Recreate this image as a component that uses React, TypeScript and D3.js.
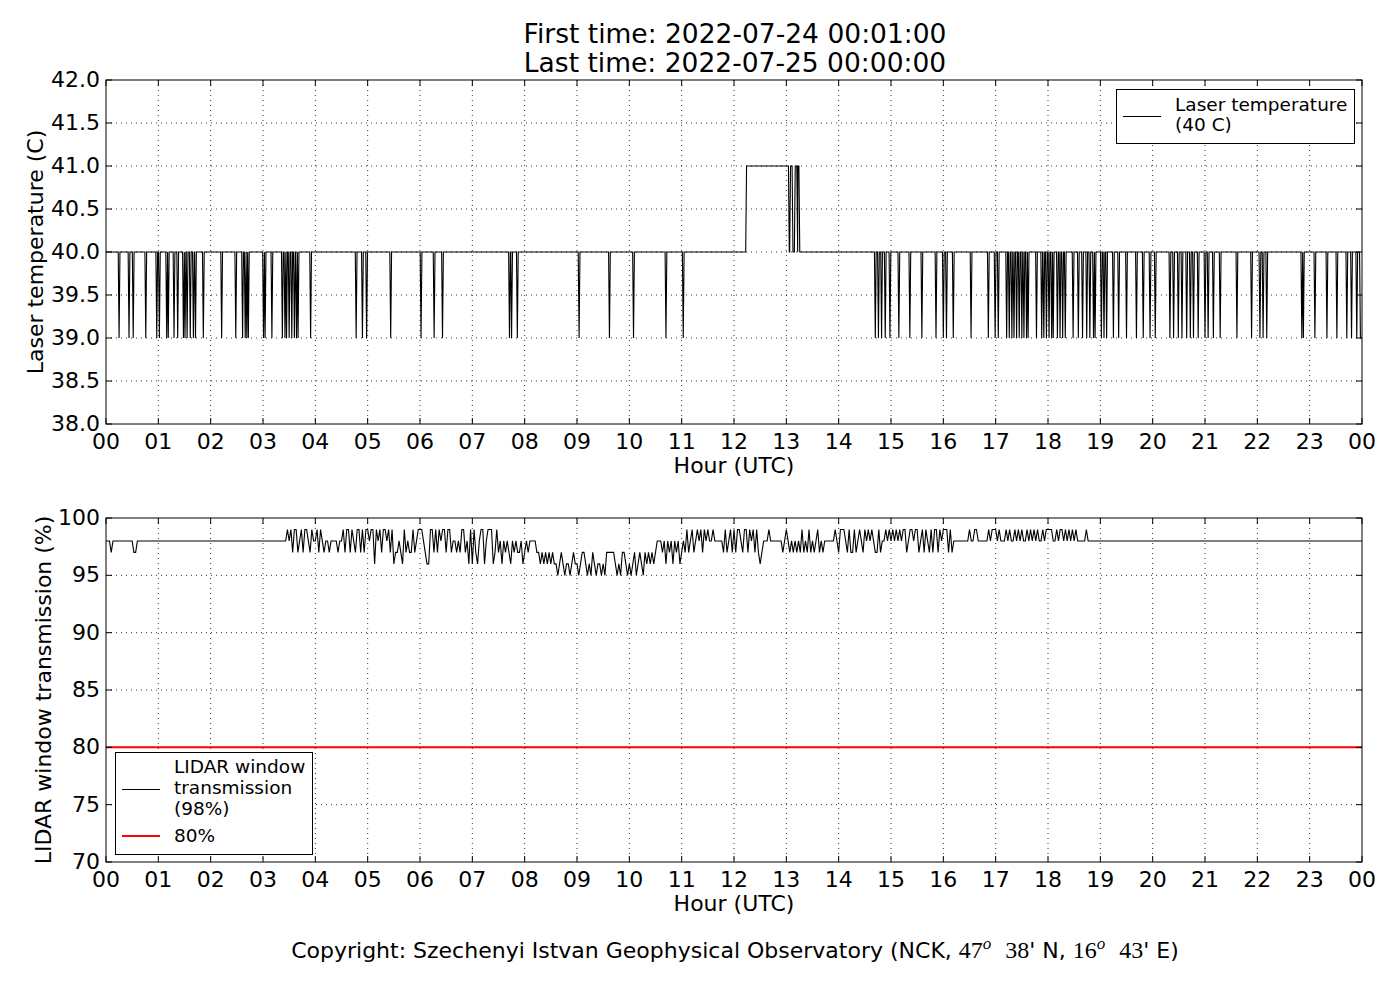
import * as d3 from "d3";

const SANS = "'DejaVu Sans', sans-serif";
const SERIF = "'Liberation Serif', 'DejaVu Serif', serif";

const hourLabels = [
  "00", "01", "02", "03", "04", "05", "06", "07", "08", "09", "10", "11",
  "12", "13", "14", "15", "16", "17", "18", "19", "20", "21", "22", "23", "00",
];
const tempTicks = [38.0, 38.5, 39.0, 39.5, 40.0, 40.5, 41.0, 41.5, 42.0];
const transTicks = [70, 75, 80, 85, 90, 95, 100];

// laser temperature: sits at 40 C, one-minute drops to 39 C (hour of day)
const tempBase = 40;
const tempLow = 39;
const tempDips = [
  0.25, 0.44, 0.52, 0.76, 0.97, 1.02, 1.16, 1.19, 1.3, 1.37, 1.48, 1.51, 1.55,
  1.61, 1.67, 1.71, 1.86, 2.21, 2.48, 2.61, 2.66, 2.69, 2.72, 3.01, 3.04, 3.17,
  3.37, 3.42, 3.45, 3.5, 3.55, 3.6, 3.64, 3.67, 3.91, 4.78, 4.9, 4.98, 5.44,
  6.02, 6.27, 6.43, 7.71, 7.75, 7.86, 9.04, 9.62, 10.08, 10.7, 11.03, 14.7,
  14.76, 14.82, 14.89, 14.98, 15.15, 15.36, 15.59, 15.86, 16.0, 16.06, 16.19,
  16.53, 16.86, 16.99, 17.05, 17.21, 17.26, 17.31, 17.35, 17.4, 17.45, 17.5,
  17.54, 17.59, 17.62, 17.78, 17.88, 17.92, 17.97, 18.02, 18.07, 18.1, 18.18,
  18.23, 18.28, 18.33, 18.48, 18.58, 18.66, 18.74, 18.8, 18.87, 18.9, 19.02,
  19.07, 19.12, 19.25, 19.35, 19.5, 19.69, 19.82, 19.95, 20.05, 20.33, 20.4,
  20.49, 20.56, 20.65, 20.72, 20.78, 20.87, 21.0, 21.06, 21.16, 21.29, 21.61,
  21.89, 22.05, 22.11, 22.18, 22.85, 22.88, 23.1, 23.33, 23.52, 23.71, 23.8,
  23.9,
];
// spans spent at 41 C, and the last span at 39 C running to the end
const tempHighSpans: [number, number][] = [
  [12.24, 13.04], [13.08, 13.11], [13.17, 13.2], [13.22, 13.24],
];
const tempLastLow: [number, number] = [23.97, 24];

// window transmission, one string per hour, each digit d = 90 + d %
const transByHour = [
  "888788888888888877888888888888",
  "888888888888888888888888888888",
  "888888888888888888888888888888",
  "888888888888889897997897998798",
  "897987887888878897997987997979",
  "989969897998979677876978779789",
  "998766997979899799788787997869",
  "697689968999679786878768787786",
  "787888877676767676656765665676",
  "656776565765665657777765657765",
  "656756765767676788878687868786",
  "787978978989798988988888797897",
  "979987997989797678889888888878",
  "987878787978797878978788888898",
  "799987977978987989898779788989",
  "898989899789989978979879799798",
  "999797888888888988998888889899",
  "989888989889898988989898988989",
  "999889899898989898888898888888",
  "888888888888888888888888888888",
  "888888888888888888888888888888",
  "888888888888888888888888888888",
  "888888888888888888888888888888",
  "888888888888888888888888888888",
];
const transLimit = 80;

const M = 1 / 60;

function buildTemp(): [number, number][] {
  const events = [
    ...tempDips.map((t) => ({ a: t, b: t, v: tempLow })),
    ...tempHighSpans.map(([a, b]) => ({ a, b, v: 41 })),
  ].sort((p, q) => p.a - q.a);
  const pts: [number, number][] = [[0, tempBase]];
  const push = (t: number, v: number) => {
    const last = pts[pts.length - 1][0];
    pts.push([Math.max(t, last), v]);
  };
  events.forEach((e) => {
    push(e.a - M, tempBase);
    push(e.a, e.v);
    push(e.b, e.v);
    push(e.b + M, tempBase);
  });
  push(tempLastLow[0] - M, tempBase);
  push(tempLastLow[0], tempLow);
  push(tempLastLow[1], tempLow);
  return pts;
}

function buildTrans(): [number, number][] {
  const pts: [number, number][] = [];
  transByHour.forEach((s, h) => {
    const n = s.length;
    for (let i = 0; i < n; i++) pts.push([h + i / n, 90 + Number(s[i])]);
  });
  pts.push([24, 98]);
  return pts;
}

const L = 106;
const R = 1362;
const x = d3.scaleLinear().domain([0, 24]).range([L, R]);

function Axes(props: {
  top: number;
  bottom: number;
  y: d3.ScaleLinear<number, number>;
  ticks: number[];
  fmt: (v: number) => string;
  ylabel: string;
  ylabelX: number;
  id: string;
  children?: any;
}) {
  const { top, bottom, y, ticks, fmt, ylabel, ylabelX, id, children } = props;
  const hours = d3.range(0, 25);
  const grid = { stroke: "#000", strokeWidth: 0.8, strokeDasharray: "1,4" };
  return (
    <g>
      <defs>
        <clipPath id={id}>
          <rect x={L} y={top} width={R - L} height={bottom - top} />
        </clipPath>
      </defs>
      {hours.slice(1, -1).map((h) => (
        <line key={"gx" + h} x1={x(h)} x2={x(h)} y1={top} y2={bottom} {...grid} />
      ))}
      {ticks.slice(1, -1).map((v) => (
        <line key={"gy" + v} x1={L} x2={R} y1={y(v)} y2={y(v)} {...grid} />
      ))}
      <g clipPath={`url(#${id})`}>{children}</g>
      {hours.map((h) => (
        <g key={"tx" + h}>
          <line x1={x(h)} x2={x(h)} y1={bottom} y2={bottom - 6} stroke="#000" />
          <line x1={x(h)} x2={x(h)} y1={top} y2={top + 6} stroke="#000" />
          <text x={x(h)} y={bottom + 25} fontSize={22} textAnchor="middle" fontFamily={SANS}>
            {hourLabels[h]}
          </text>
        </g>
      ))}
      {ticks.map((v) => (
        <g key={"ty" + v}>
          <line x1={L} x2={L + 6} y1={y(v)} y2={y(v)} stroke="#000" />
          <line x1={R} x2={R - 6} y1={y(v)} y2={y(v)} stroke="#000" />
          <text x={L - 6} y={y(v) + 7} fontSize={22} textAnchor="end" fontFamily={SANS}>
            {fmt(v)}
          </text>
        </g>
      ))}
      <rect x={L} y={top} width={R - L} height={bottom - top} fill="none" stroke="#000" strokeWidth={1} />
      <text x={(L + R) / 2} y={bottom + 49} fontSize={22} textAnchor="middle" fontFamily={SANS}>
        Hour (UTC)
      </text>
      <text
        transform={`translate(${ylabelX},${(top + bottom) / 2}) rotate(-90)`}
        fontSize={22}
        textAnchor="middle"
        fontFamily={SANS}
      >
        {ylabel}
      </text>
    </g>
  );
}

export default function App() {
  const yT = d3.scaleLinear().domain([38, 42]).range([424, 80]);
  const yB = d3.scaleLinear().domain([70, 100]).range([862, 518]);
  const lineT = d3.line<[number, number]>().x((d) => x(d[0])).y((d) => yT(d[1]));
  const lineB = d3.line<[number, number]>().x((d) => x(d[0])).y((d) => yB(d[1]));
  const temp = buildTemp();
  const trans = buildTrans();

  return (
    <div style={{ position: "absolute", left: 0, top: 0 }}>
      <svg width={1400} height={1000} style={{ display: "block", background: "#fff" }}>
        <text x={735} y={43} fontSize={26.5} textAnchor="middle" fontFamily={SANS}>
          First time: 2022-07-24 00:01:00
        </text>
        <text x={735} y={72} fontSize={26.5} textAnchor="middle" fontFamily={SANS}>
          Last time: 2022-07-25 00:00:00
        </text>

        <Axes
          top={80}
          bottom={424}
          y={yT}
          ticks={tempTicks}
          fmt={(v) => v.toFixed(1)}
          ylabel="Laser temperature (C)"
          ylabelX={43}
          id="clipT"
        >
          <path d={lineT(temp) ?? ""} fill="none" stroke="#000" strokeWidth={1.1} />
        </Axes>

        <g>
          <rect x={1116.5} y={89.5} width={238} height={54} fill="#fff" stroke="#000" />
          <line x1={1123} x2={1161} y1={116.5} y2={116.5} stroke="#000" />
          <text x={1175} y={111} fontSize={18.5} fontFamily={SANS}>Laser temperature</text>
          <text x={1175} y={131} fontSize={18.5} fontFamily={SANS}>(40 C)</text>
        </g>

        <Axes
          top={518}
          bottom={862}
          y={yB}
          ticks={transTicks}
          fmt={(v) => String(v)}
          ylabel="LIDAR window transmission (%)"
          ylabelX={51}
          id="clipB"
        >
          <path d={lineB(trans) ?? ""} fill="none" stroke="#000" strokeWidth={1.1} />
          <line x1={L} x2={R} y1={yB(transLimit)} y2={yB(transLimit)} stroke="#ff0000" strokeWidth={2} />
        </Axes>

        <g>
          <rect x={115.5} y={752.5} width={197} height={102} fill="#fff" stroke="#000" />
          <line x1={122} x2={160} y1={789.5} y2={789.5} stroke="#000" />
          <text x={174} y={773} fontSize={18.5} fontFamily={SANS}>LIDAR window</text>
          <text x={174} y={794} fontSize={18.5} fontFamily={SANS}>transmission</text>
          <text x={174} y={815} fontSize={18.5} fontFamily={SANS}>(98%)</text>
          <line x1={122} x2={160} y1={836} y2={836} stroke="#ff0000" strokeWidth={2} />
          <text x={174} y={842} fontSize={18.5} fontFamily={SANS}>80%</text>
        </g>

        <text x={735} y={958} fontSize={22} textAnchor="middle" fontFamily={SANS}>
          Copyright: Szechenyi Istvan Geophysical Observatory (NCK,{" "}
          <tspan fontFamily={SERIF} fontSize={24}>47</tspan>
          <tspan fontFamily={SERIF} fontSize={17} fontStyle="italic" dy={-9}>o</tspan>
          <tspan dy={9}>{"\u00a0\u00a0"}</tspan>
          <tspan fontFamily={SERIF} fontSize={24}>38</tspan>' N,{" "}
          <tspan fontFamily={SERIF} fontSize={24}>16</tspan>
          <tspan fontFamily={SERIF} fontSize={17} fontStyle="italic" dy={-9}>o</tspan>
          <tspan dy={9}>{"\u00a0\u00a0"}</tspan>
          <tspan fontFamily={SERIF} fontSize={24}>43</tspan>' E)
        </text>
      </svg>
    </div>
  );
}
